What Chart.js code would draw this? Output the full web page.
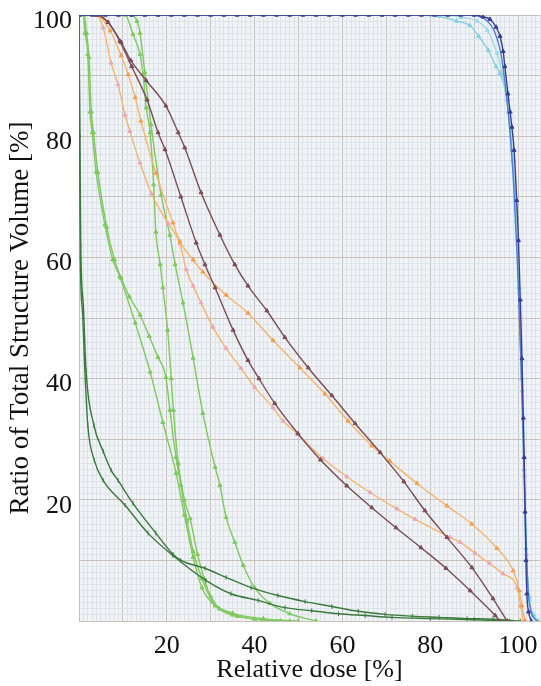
<!DOCTYPE html>
<html>
<head>
<meta charset="utf-8">
<script src="https://cdn.jsdelivr.net/npm/chart.js"></script>
<style>
  html, body { margin: 0; padding: 0; background: #fff; overflow: hidden; }
  #wrap { width: 541px; height: 686px; overflow: hidden; }
</style>
</head>
<body>
<div id="wrap"><canvas id="dvh" width="545" height="686"></canvas></div>
<script>
// dose-volume curves, [relative dose %, volume %]
const navyDvh = [
  [0,100],[3,100],[6,100],[9,100],[12,100],[15,100],[18,100],[21,100],[24,100],[27,100],
  [30,100],[33,100],[36,100],[39,100],[42,100],[45,100],[48,100],[51,100],[54,100],[57,100],
  [60,100],[63,100],[66,100],[69,100],[72,100],[75,100],[78,100],[81,100],[84,100],[87,100],
  [90,100],[92,99.7],[93.6,99.3],[95,98],[95.9,96.5],[96.6,94],[97,91.5],[97.7,87],[98.2,84],
  [98.6,81.5],[99.1,77.7],[99.7,69.4],[100.1,62.8],[100.5,53],[100.9,43.3],[101.2,33.5],
  [101.4,27],[101.6,18],[101.8,10],[102,4.5],[102.4,1.5],[103,0]
];
const blueDvh = [
  [0,100],[89,100],[91,99.8],[93,99],[94.5,97.5],[96,94],[97,89],[98,82],[99,72],[99.8,60],
  [100.4,48],[101,35],[101.5,22],[101.9,12],[102.3,5],[103,1.5],[104.3,0]
];
const cyanDvh1 = [
  [0,100],[80,100],[82,99.8],[86,99],[89,98.3],[91,96.5],[93.2,94.2],[95,91.5],[95.9,90.4],
  [97.5,86],[98.6,77.7],[99.5,68],[100.2,55],[100.8,40],[101.3,25],[101.8,12],[102.5,4],
  [103.5,1],[104.5,0]
];
const cyanDvh2 = [
  [0,100],[84,100],[87,99.6],[90.7,99],[93,97.5],[95.2,93.7],[96.5,90],[97.8,84],[98.8,76],
  [99.6,66],[100.3,52],[100.9,38],[101.4,24],[101.9,11],[102.6,3.5],[103.6,0.8],[104.6,0]
];
const brownDvh1 = [
  [0,100],[4,100],[6.6,98.8],[9.6,95.5],[11.8,92.5],[15.3,89.2],[19.8,85],[22.6,80.6],
  [24.1,78.1],[27.8,70.7],[32.1,63.7],[35.5,58.8],[38.5,55.3],[42.8,51.2],[46.9,46.8],
  [52.2,41.8],[57.6,37.2],[62.9,32.6],[68.6,27.8],[74,23],[78.8,18.2],[83.8,13.8],
  [89.5,8.8],[94.3,3.7],[97.5,0]
];
const brownDvh2 = [
  [0,100],[4,100],[6.6,98.8],[9.3,95.7],[12,91.5],[15.5,86],[18,80.6],[19.6,77.8],[23.2,70],
  [26.7,62.4],[28.7,58.8],[31,55],[35.1,48],[38.5,43],[41,40],[44.6,35.9],[49.9,30.9],
  [55,26.6],[61,22.3],[66.7,18.7],[72.2,15.4],[77.9,12.1],[83.6,8.7],[89.1,5],[94.8,0.9],
  [95.8,0]
];
const orangeDvh1 = [
  [0,100],[4,100],[7.1,97.4],[9.6,93.3],[11.2,90.2],[12.8,86.4],[14.1,82.5],[17.5,73.9],
  [21.4,65.7],[23,62.6],[26,59.6],[28.2,57.6],[33.5,53.8],[38.5,50.8],[44.2,46.3],
  [50.3,41.8],[56,37.5],[61.3,33],[66.7,28.9],[70.8,26.4],[77,22.7],[83.8,19],[89.5,16],
  [95.2,12],[98.9,8.3],[100.3,5],[100.9,2.5],[101.6,0]
];
const orangeDvh2 = [
  [0,100],[4,100],[5.5,97.9],[7.3,92.1],[8.9,88.5],[10.5,83.5],[11.6,80.8],[13.9,75.6],
  [16.5,70.5],[20.3,65.6],[23,62.3],[24.4,58],[26,55.3],[27.8,52.5],[30.5,48.5],[33.5,45],
  [36.9,41.7],[40,38.6],[44.2,35.2],[46.5,33],[49.7,30.9],[55.6,26.8],[61,23.8],[66.3,21.2],
  [72.4,18.5],[76.5,16.8],[84.5,13.8],[86.8,13],[90.2,11.2],[93.5,9.5],[96.6,7.8],
  [99.8,5.5],[100.6,2.5],[101.1,0]
];
const lightGreenDvh1 = [
  [0,100],[1,100],[1.4,97],[2,93.5],[2.5,84],[3,80.6],[3.9,74.1],[5.9,65.4],[7.7,59.6],
  [9.3,56.8],[12.8,49.2],[16.2,41.1],[19.1,32.8],[22.1,24.4],[24,17.5],[26,10.5],[28,5.5],
  [31,2.5],[35,1],[40,0.3],[46,0]
];
const lightGreenDvh2 = [
  [0,100],[1.2,100],[1.7,97],[2.3,93],[2.8,84],[3.3,80.6],[4.3,74],[6.3,65],[8.1,59.6],
  [9.6,56.6],[11.5,53.5],[13.9,50.5],[16,47],[18,43.5],[19.8,40.2],[20.7,34.8],[22.1,27],
  [23.2,22.4],[24.6,16.5],[26,11.5],[28,7],[30.5,3.2],[35,1.3],[42,0.4],[50,0]
];
const lightGreenDvh3 = [
  [0,100],[10.5,100],[12.3,96.8],[13.9,93.5],[14.6,90.2],[15.3,84.7],[16.2,80.6],[17,72],
  [17.5,64.2],[18.5,58.8],[19.1,55],[20.2,48],[21,40],[21.5,34.8],[22.6,26],[24,20],
  [25.3,16.9],[27,11],[28.5,7],[30,4],[32,2],[36,0.8],[42,0.2],[48,0]
];
const lightGreenDvh4 = [
  [0,100],[12,100],[13.2,99],[13.9,97],[15,90.5],[16.4,81.9],[18.7,70.3],[20.7,63.7],
  [21.9,58.8],[23.7,52.5],[26,43.4],[28.2,34.3],[31,25.4],[32.1,22.4],[33.5,17.1],
  [35.5,13],[37.4,9.2],[40,5.5],[43.5,2.9],[48,1.2],[54,0]
];
const darkGreenDvh1 = [
  [0,100],[0.15,80],[0.3,60],[0.8,51],[1.3,42],[2,32.3],[3.5,26.5],[5.5,23.2],[10.5,19.1],
  [15.7,14.5],[21.4,10.8],[28.9,6.7],[34.6,4.5],[40.8,3.4],[46.9,2.2],[53,1.7],[59.1,1.2],
  [65.2,0.9],[71.3,0.6],[80,0.4],[90,0.2],[98,0]
];
const darkGreenDvh2 = [
  [0,100],[0.2,80],[0.4,62],[1,52],[1.6,41.4],[3.4,32.3],[5.5,28],[7.3,24.9],[8.9,23.2],
  [12.3,19.4],[17.5,14.5],[21.4,11],[23.2,10],[28.7,8.7],[33.5,7.2],[39.2,5.5],[45.3,4.2],
  [51.5,3.2],[57.6,2.4],[63.6,1.6],[69.7,1.1],[75.9,0.8],[82,0.6],[88.4,0.4],[94.3,0.3],
  [100.5,0]
];

const doseTicks = [20, 40, 60, 80, 100];
const volumeTicks = [20, 40, 60, 80, 100];

const serif = 'Liberation Serif, Times New Roman, serif';

function curve(data, color, style, marker) {
  return {
    data,
    borderColor: color,
    backgroundColor: marker || color,
    borderWidth: 1.4,
    pointStyle: style,
    pointRadius: 2.3,
    pointBorderWidth: 1,
    pointBorderColor: marker || color,
    pointRotation: style === 'line' ? 90 : 0,
    cubicInterpolationMode: 'monotone',
    fill: false
  };
}

// plot background
const plotBg = {
  id: 'plotBg',
  beforeDraw(chart) {
    const { ctx, chartArea: a } = chart;
    ctx.save();
    ctx.fillStyle = '#f1f4f7';
    ctx.fillRect(a.left, a.top, a.right - a.left, a.bottom - a.top);
    ctx.restore();
  }
};

function gridColor(c) {
  return c.tick.value % 10 === 0 ? '#c9c0ba' : '#dde3e8';
}

new Chart(document.getElementById('dvh'), {
  type: 'line',
  data: {
    datasets: [
      curve(navyDvh, '#3a3c92', 'triangle'),
      curve(blueDvh, '#4a80d4', false),
      curve(cyanDvh1, '#88cfe4', 'triangle'),
      curve(cyanDvh2, '#9fd9ea', 'triangle'),
      curve(brownDvh1, '#7c4c55', 'triangle'),
      curve(brownDvh2, '#7c4c55', 'triangle'),
      curve(orangeDvh1, '#f6b46e', 'triangle', '#f0a050'),
      curve(orangeDvh2, '#f6b46e', 'triangle', '#e8a8b8'),
      curve(darkGreenDvh1, '#3a783c', 'line'),
      curve(darkGreenDvh2, '#3a783c', 'line'),
      curve(lightGreenDvh1, '#80c860', 'triangle'),
      curve(lightGreenDvh2, '#80c860', 'triangle'),
      curve(lightGreenDvh3, '#80c860', 'triangle'),
      curve(lightGreenDvh4, '#80c860', 'triangle')
    ]
  },
  options: {
    responsive: false,
    animation: false,
    devicePixelRatio: 1,
    layout: { padding: { top: 15, right: 0, left: 0, bottom: 0 } },
    plugins: { legend: { display: false }, tooltip: { enabled: false } },
    scales: {
      x: {
        type: 'linear',
        min: 0,
        max: 105,
        afterFit: s => { s.height = 65; s.paddingLeft = 0; s.paddingRight = 0; },
        grid: { color: gridColor, lineWidth: 1, drawTicks: false },
        border: { color: '#c9c0ba' },
        ticks: {
          stepSize: 1,
          autoSkip: false,
          maxRotation: 0,
          padding: 10,
          color: '#111',
          font: { family: serif, size: 26 },
          callback: v => doseTicks.includes(v) ? String(v) : ''
        },
        title: {
          display: true,
          text: 'Relative dose [%]',
          color: '#111',
          font: { family: serif, size: 26 },
          padding: { top: 0, bottom: 0 }
        }
      },
      y: {
        type: 'linear',
        min: 0,
        max: 100,
        afterFit: s => { s.width = 79; s.paddingTop = 0; s.paddingBottom = 0; },
        grid: { color: gridColor, lineWidth: 1, drawTicks: false },
        border: { color: '#c9c0ba' },
        ticks: {
          stepSize: 1,
          autoSkip: false,
          padding: 7,
          labelOffset: 6,
          color: '#111',
          font: { family: serif, size: 26 },
          callback: v => volumeTicks.includes(v) ? String(v) : ''
        },
        title: {
          display: true,
          text: 'Ratio of Total Structure Volume [%]',
          color: '#111',
          font: { family: serif, size: 27 },
          padding: { top: 5, bottom: 0 }
        }
      }
    }
  },
  plugins: [plotBg]
});
</script>
</body>
</html>
